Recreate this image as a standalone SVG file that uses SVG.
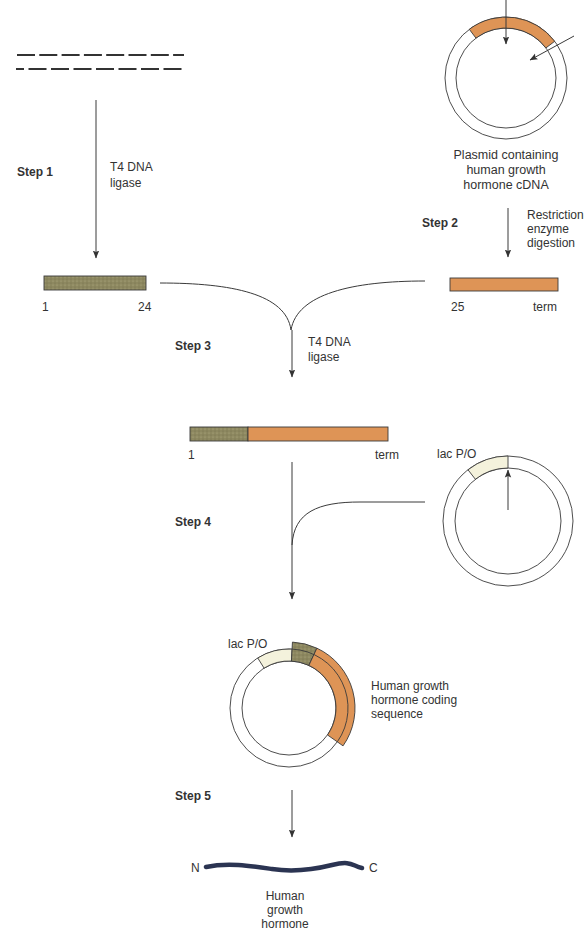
<svg xmlns="http://www.w3.org/2000/svg" width="584" height="939" viewBox="0 0 584 939">
  <defs>
    <style>
      .lbl { font-family: "Liberation Sans", Arial, sans-serif; font-size: 12px; fill: #333; }
      .cap { font-family: "Liberation Sans", Arial, sans-serif; font-size: 12.5px; fill: #333; }
      .step { font-family: "Liberation Sans", Arial, sans-serif; font-size: 12px; font-weight: bold; fill: #333; }
      .line { fill: none; stroke: #3a3a3a; stroke-width: 1; }
      .ring { fill: none; stroke: #3a3a3a; stroke-width: 0.9; }
      .seg { stroke: #3a3a3a; stroke-width: 0.9; }
      .olive { fill: url(#stipple); }
      .orange { fill: #de9456; }
      .cream { fill: #f4f2dc; }
    </style>
    <pattern id="stipple" width="4" height="4" patternUnits="userSpaceOnUse">
      <rect width="4" height="4" fill="#8d8860"/>
      <circle cx="1" cy="1" r="0.6" fill="#b2ad86"/>
      <circle cx="3" cy="3" r="0.5" fill="#6f6a48"/>
    </pattern>
    <marker id="head" viewBox="0 0 8 8" refX="7.5" refY="4" markerWidth="8" markerHeight="8" markerUnits="userSpaceOnUse" orient="auto">
      <path d="M0,0.8 L8,4 L0,7.2 L1.6,4 Z" fill="#333"/>
    </marker>
  </defs>

  <!-- oligonucleotide fragments -->
  <g id="oligos">
    <line x1="17" y1="55" x2="184" y2="55" stroke="#333" stroke-width="1.8" stroke-dasharray="18 4.3"/>
    <line x1="16" y1="69" x2="183" y2="69" stroke="#333" stroke-width="1.8" stroke-dasharray="18 4.5" stroke-dashoffset="10"/>
  </g>

  <!-- plasmid carrying the cDNA -->
  <g id="cdna-plasmid">
    <circle cx="506" cy="78" r="61" class="ring"/>
    <circle cx="506" cy="78" r="50" class="ring"/>
    <path class="orange seg" d="M469.29,29.29 A61,61 0 0 1 554.71,41.29 L545.93,47.91 A50,50 0 0 0 475.91,38.07 Z"/>
    <text class="cap" x="506" y="159" text-anchor="middle">Plasmid containing</text>
    <text class="cap" x="506" y="174" text-anchor="middle">human growth</text>
    <text class="cap" x="506" y="189" text-anchor="middle">hormone cDNA</text>
  </g>

  <!-- synthetic 1-24 fragment -->
  <g id="frag-1-24">
    <rect x="44" y="276" width="102" height="14" class="olive seg"/>
    <text class="lbl" x="42" y="311">1</text>
    <text class="lbl" x="138" y="311">24</text>
  </g>

  <!-- cDNA 25-term fragment -->
  <g id="frag-25-term">
    <rect x="450" y="278" width="108" height="13" class="orange seg"/>
    <text class="lbl" x="451" y="311">25</text>
    <text class="lbl" x="533" y="311">term</text>
  </g>

  <!-- ligated gene -->
  <g id="gene">
    <rect x="190" y="427" width="58" height="14" class="olive seg"/>
    <rect x="248" y="427" width="140" height="14" class="orange seg"/>
    <text class="lbl" x="188" y="459">1</text>
    <text class="lbl" x="375" y="459">term</text>
  </g>

  <!-- expression vector -->
  <g id="lac-vector">
    <circle cx="508" cy="521" r="65" class="ring"/>
    <circle cx="508" cy="521" r="53" class="ring"/>
    <path class="cream seg" d="M467.98,469.78 A65,65 0 0 1 508,456 L508,468 A53,53 0 0 0 475.37,479.24 Z"/>
    <text class="lbl" x="437" y="458">lac P/O</text>
  </g>

  <!-- recombinant expression plasmid -->
  <g id="expression-plasmid">
    <circle cx="289" cy="708" r="59" class="ring"/>
    <circle cx="289" cy="708" r="47" class="ring"/>
    <!-- lac P/O, -32 to 3 deg -->
    <path class="cream seg" d="M257.74,657.97 A59,59 0 0 1 292.09,649.08 L291.46,661.06 A47,47 0 0 0 264.09,668.14 Z"/>
    <!-- codons 1-24, 3 to 25 deg -->
    <path class="olive seg" d="M292.45,642.09 A66,66 0 0 1 316.89,648.18 L308.86,665.40 A47,47 0 0 0 291.46,661.06 Z"/>
    <!-- codons 25-term, 25 to 125 deg -->
    <path class="orange seg" d="M316.89,648.18 A66,66 0 0 1 343.06,745.86 L327.50,734.96 A47,47 0 0 0 308.86,665.40 Z"/>
    <path class="ring" d="M292.09,649.08 A59,59 0 0 1 337.33,741.84"/>
    <text class="lbl" x="228" y="648">lac P/O</text>
    <text class="lbl" x="371" y="690">Human growth</text>
    <text class="lbl" x="371" y="704">hormone coding</text>
    <text class="lbl" x="371" y="718">sequence</text>
  </g>

  <!-- expressed protein -->
  <g id="protein">
    <path d="M206,867 C228,862 252,866 272,869 S312,870 332,865 S352,866 362,868" fill="none" stroke="#2b3452" stroke-width="4.5" stroke-linecap="round"/>
    <text class="lbl" x="191" y="872">N</text>
    <text class="lbl" x="369" y="872">C</text>
    <text class="lbl" x="285" y="900" text-anchor="middle">Human</text>
    <text class="lbl" x="285" y="914" text-anchor="middle">growth</text>
    <text class="lbl" x="285" y="928" text-anchor="middle">hormone</text>
  </g>

  <!-- step labels -->
  <g id="steps">
    <text class="step" x="17" y="176">Step 1</text>
    <text class="lbl" x="110" y="171">T4 DNA</text>
    <text class="lbl" x="110" y="187">ligase</text>
    <text class="step" x="422" y="227">Step 2</text>
    <text class="lbl" x="527" y="219">Restriction</text>
    <text class="lbl" x="527" y="233">enzyme</text>
    <text class="lbl" x="527" y="247">digestion</text>
    <text class="step" x="175" y="350">Step 3</text>
    <text class="lbl" x="308" y="346">T4 DNA</text>
    <text class="lbl" x="308" y="361">ligase</text>
    <text class="step" x="175" y="526">Step 4</text>
    <text class="step" x="175" y="800">Step 5</text>
  </g>

  <!-- connectors -->
  <g id="connectors" class="line">
    <line x1="506" y1="0" x2="506" y2="44" marker-end="url(#head)"/>
    <line x1="574" y1="36" x2="530" y2="60" marker-end="url(#head)"/>
    <line x1="96" y1="100" x2="96" y2="258" marker-end="url(#head)"/>
    <line x1="508" y1="208" x2="508" y2="257" marker-end="url(#head)"/>
    <path d="M160,283 C232,283 286,294 291,330"/>
    <path d="M291,330 C297,294 352,281 425,281"/>
    <line x1="292" y1="330" x2="292" y2="377" marker-end="url(#head)"/>
    <line x1="292" y1="462" x2="292" y2="599" marker-end="url(#head)"/>
    <path d="M292,545 C294,512 318,502 360,502 L425,502"/>
    <line x1="508" y1="510" x2="508" y2="470" marker-end="url(#head)"/>
    <line x1="292" y1="790" x2="292" y2="837" marker-end="url(#head)"/>
  </g>
</svg>
